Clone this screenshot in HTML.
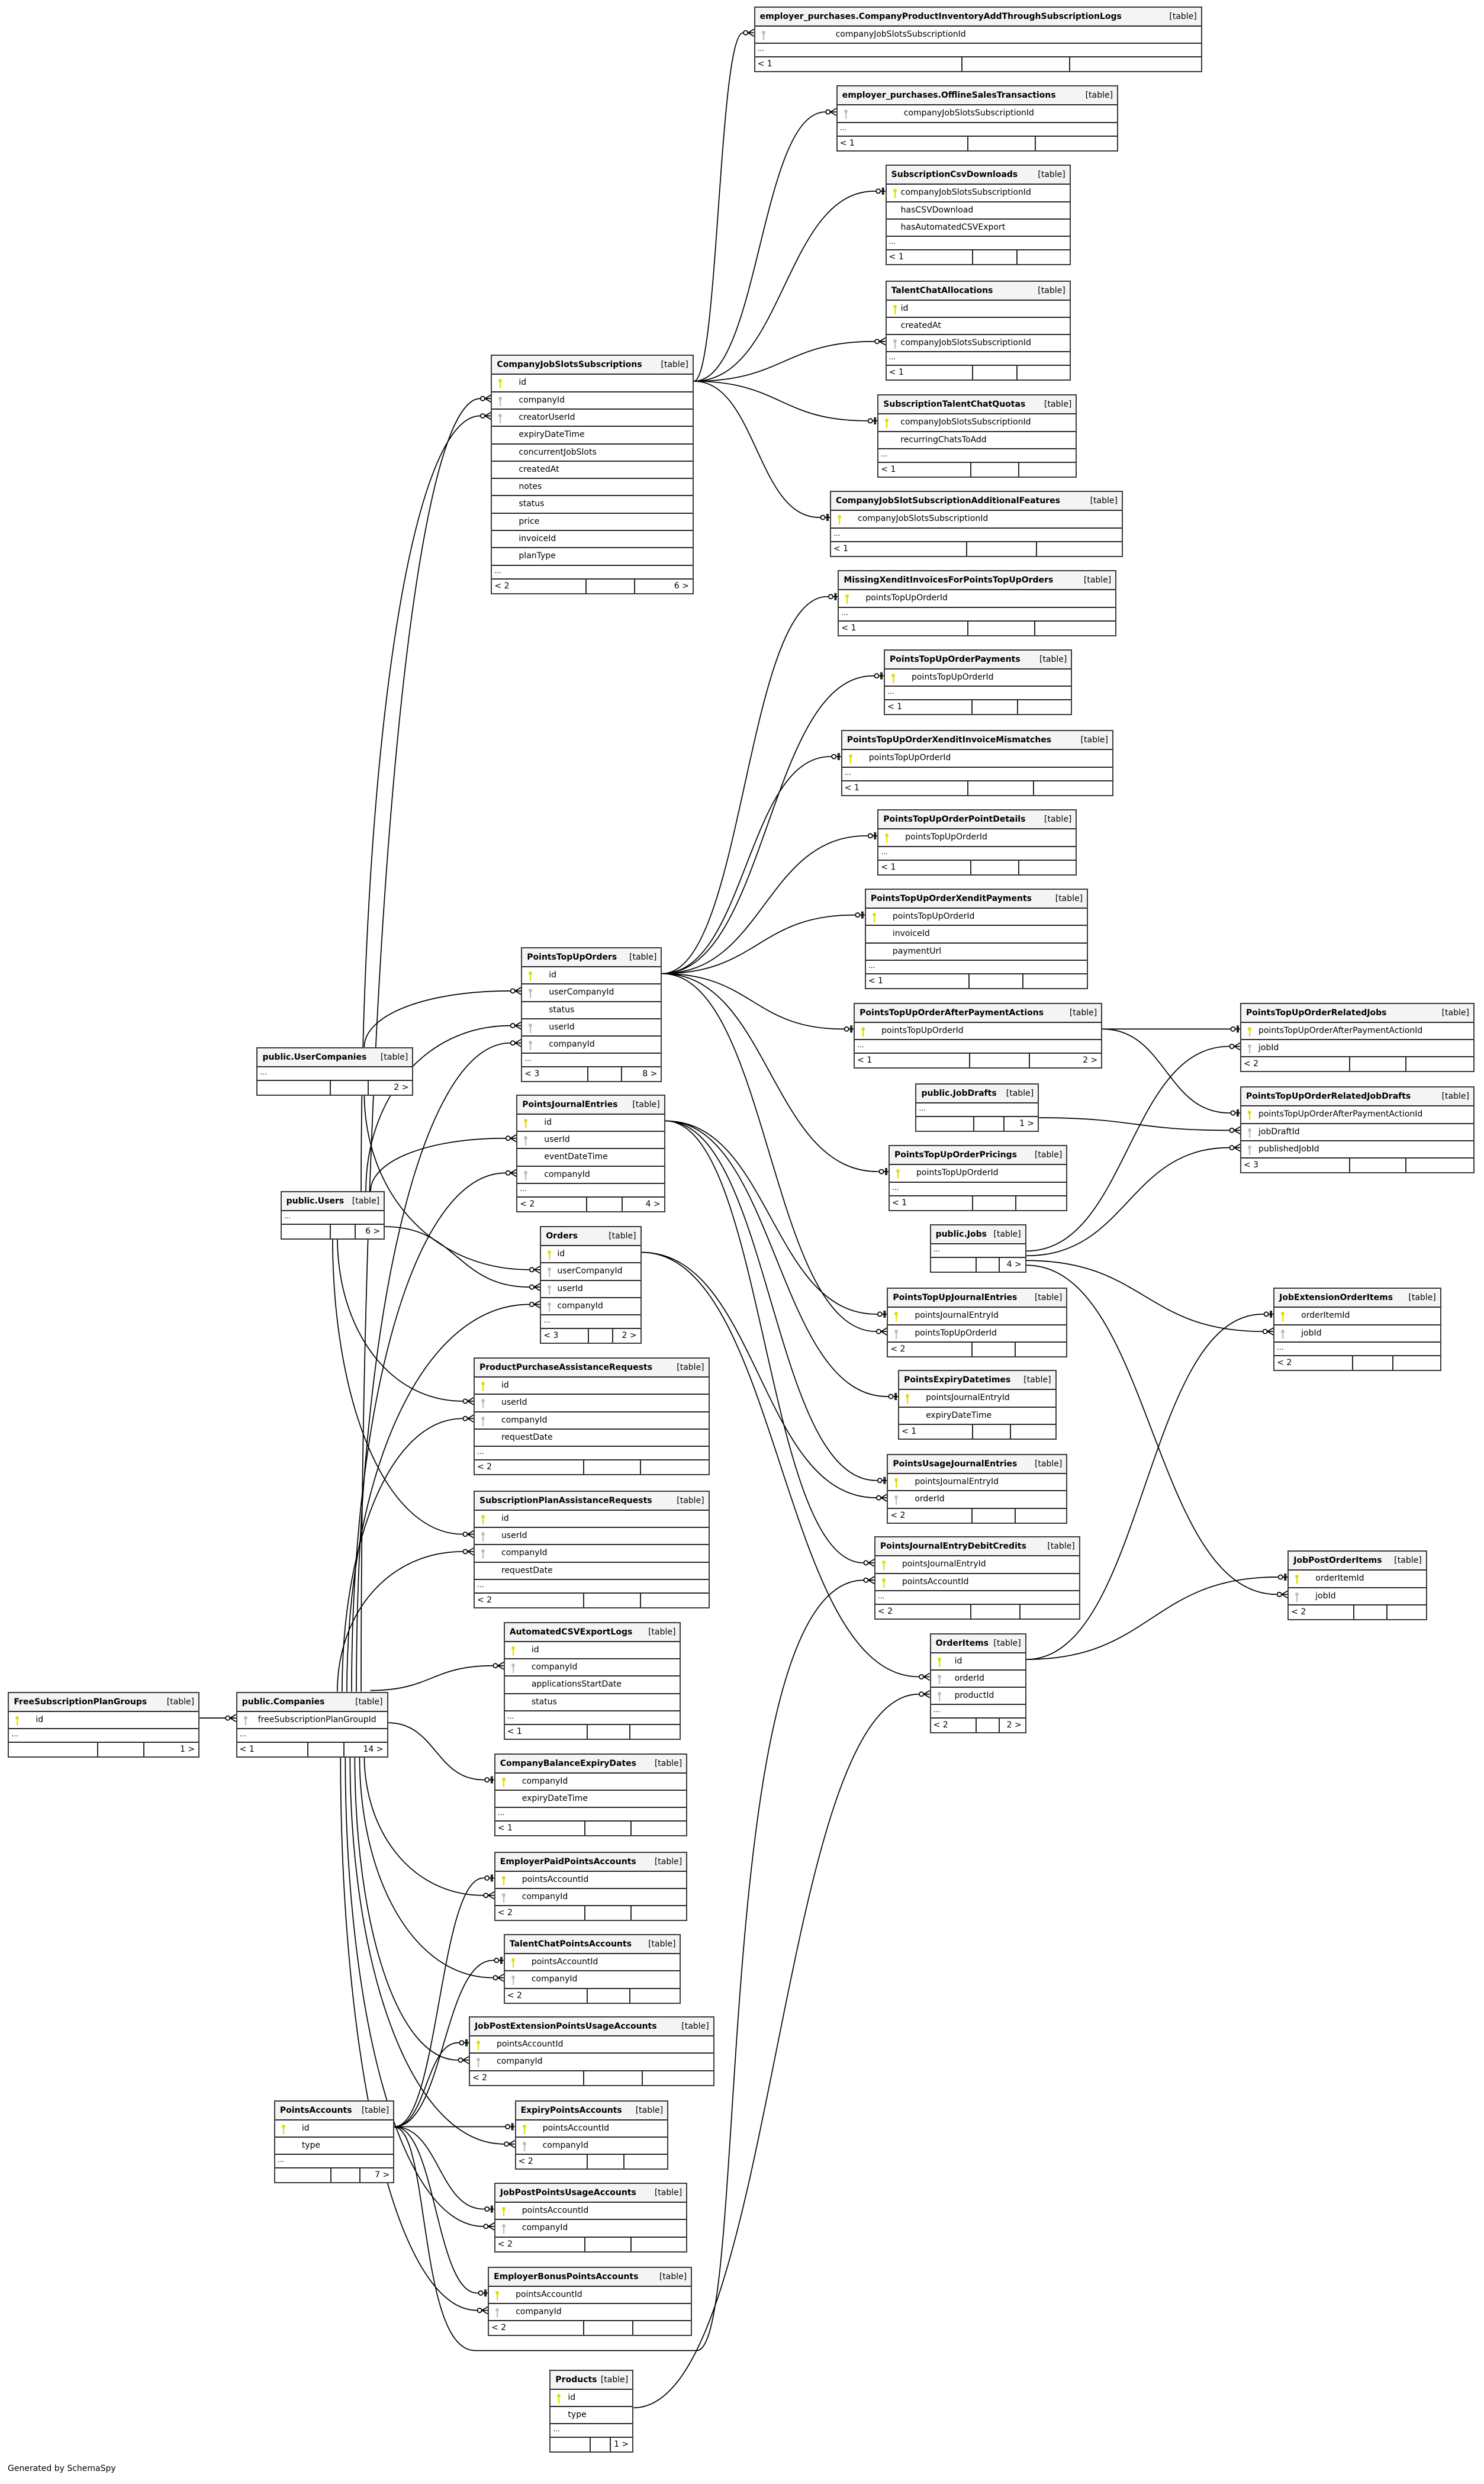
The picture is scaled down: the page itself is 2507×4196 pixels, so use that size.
<!DOCTYPE html>
<html><head><meta charset="utf-8">
<style>
html,body{margin:0;padding:0;background:#fff;}
body{width:2507px;height:4196px;position:relative;overflow:hidden;font-family:"DejaVu Sans","Liberation Sans",sans-serif;color:#000;}
.t{position:absolute;border:2px solid #3c3c3c;box-sizing:border-box;background:#fff;}
.h{height:30px;background:#f4f4f4;font-weight:bold;font-size:14px;line-height:30px;padding-left:8px;position:relative;white-space:nowrap;}
.h span{position:absolute;right:7px;top:0;font-weight:normal;font-size:14px;}
.r{height:29.3px;border-top:2px solid #2a2a2a;box-sizing:border-box;font-size:14px;line-height:27px;position:relative;white-space:nowrap;}
.d{height:23px;border-top:2px solid #2a2a2a;box-sizing:border-box;font-size:12px;line-height:16px;padding-left:4px;}
.f{height:25px;border-top:2px solid #2a2a2a;box-sizing:border-box;font-size:14px;line-height:22px;position:relative;}
.f .a{position:absolute;left:4px;top:0;}
.f .b{position:absolute;right:6px;top:0;}
.f .v{position:absolute;top:0;bottom:0;border-left:2px solid #2a2a2a;}
.k{position:absolute;top:6px;}
svg#lines{position:absolute;left:0;top:0;}
.gen{position:absolute;left:13px;top:4162px;font-size:14px;}
</style></head><body>
<svg id="lines" width="2507" height="4196"></svg>
<div id="root"></div>
<div class="gen">Generated by SchemaSpy</div>
<script>
const S=2.6756;
const T={};
function tb(id,L,Tp,R,name,rows,fl,fr,off,nd){T[id]={L:L*S,T:Tp*S,R:R*S,name,rows,fl,fr,off:off||45,nd:!!nd};}
tb(1,476,4,759,"employer_purchases.CompanyProductInventoryAddThroughSubscriptionLogs",["F:companyJobSlotsSubscriptionId"],"< 1","",136);
tb(2,528,54,706,"employer_purchases.OfflineSalesTransactions",["F:companyJobSlotsSubscriptionId"],"< 1","",112);
tb(3,559,104,676,"SubscriptionCsvDownloads",["P:companyJobSlotsSubscriptionId",":hasCSVDownload",":hasAutomatedCSVExport"],"< 1","",24);
tb(4,559,177,676,"TalentChatAllocations",["P:id",":createdAt","F:companyJobSlotsSubscriptionId"],"< 1","",24);
tb(5,554,249,680,"SubscriptionTalentChatQuotas",["P:companyJobSlotsSubscriptionId",":recurringChatsToAdd"],"< 1","",37);
tb(6,524,310,709,"CompanyJobSlotSubscriptionAdditionalFeatures",["P:companyJobSlotsSubscriptionId"],"< 1","");
tb(7,310,224,438,"CompanyJobSlotsSubscriptions",["P:id","F:companyId","F:creatorUserId",":expiryDateTime",":concurrentJobSlots",":createdAt",":notes",":status",":price",":invoiceId",":planType"],"< 2","6 >");
tb(8,529,360,705,"MissingXenditInvoicesForPointsTopUpOrders",["P:pointsTopUpOrderId"],"< 1","");
tb(9,558,410,677,"PointsTopUpOrderPayments",["P:pointsTopUpOrderId"],"< 1","");
tb(10,531,461,703,"PointsTopUpOrderXenditInvoiceMismatches",["P:pointsTopUpOrderId"],"< 1","");
tb(11,554,511,680,"PointsTopUpOrderPointDetails",["P:pointsTopUpOrderId"],"< 1","");
tb(12,546,561,687,"PointsTopUpOrderXenditPayments",["P:pointsTopUpOrderId",":invoiceId",":paymentUrl"],"< 1","");
tb(13,539,633,696,"PointsTopUpOrderAfterPaymentActions",["P:pointsTopUpOrderId"],"< 1","2 >");
tb(14,783,633,931,"PointsTopUpOrderRelatedJobs",["P:pointsTopUpOrderAfterPaymentActionId","F:jobId"],"< 2","",29,1);
tb(15,783,686,931,"PointsTopUpOrderRelatedJobDrafts",["P:pointsTopUpOrderAfterPaymentActionId","F:jobDraftId","F:publishedJobId"],"< 3","",29,1);
tb(16,578,684,656,"public.JobDrafts",[],"","1 >");
tb(17,561,723,674,"PointsTopUpOrderPricings",["P:pointsTopUpOrderId"],"< 1","");
tb(18,587,773,648,"public.Jobs",[],"","4 >");
tb(19,329,598,418,"PointsTopUpOrders",["P:id","F:userCompanyId",":status","F:userId","F:companyId"],"< 3","8 >");
tb(20,162,661,261,"public.UserCompanies",[],"","2 >");
tb(21,326,691,420,"PointsJournalEntries",["P:id","F:userId",":eventDateTime","F:companyId"],"< 2","4 >");
tb(22,177,752,243,"public.Users",[],"","6 >");
tb(23,341,774,405,"Orders",["P:id","F:userCompanyId","F:userId","F:companyId"],"< 3","2 >",27);
tb(24,560,813,674,"PointsTopUpJournalEntries",["P:pointsJournalEntryId","F:pointsTopUpOrderId"],"< 2","",45,1);
tb(25,567,865,667,"PointsExpiryDatetimes",["P:pointsJournalEntryId",":expiryDateTime"],"< 1","",45,1);
tb(26,560,918,674,"PointsUsageJournalEntries",["P:pointsJournalEntryId","F:orderId"],"< 2","",45,1);
tb(27,552,970,682,"PointsJournalEntryDebitCredits",["P:pointsJournalEntryId","P:pointsAccountId"],"< 2","");
tb(28,299,857,448,"ProductPurchaseAssistanceRequests",["P:id","F:userId","F:companyId",":requestDate"],"< 2","");
tb(29,299,941,448,"SubscriptionPlanAssistanceRequests",["P:id","F:userId","F:companyId",":requestDate"],"< 2","");
tb(30,804,813,910,"JobExtensionOrderItems",["P:orderItemId","F:jobId"],"< 2","");
tb(31,813,979,901,"JobPostOrderItems",["P:orderItemId","F:jobId"],"< 2","",45,1);
tb(32,587,1031,648,"OrderItems",["P:id","F:orderId","F:productId"],"< 2","2 >",40);
tb(33,318,1024,430,"AutomatedCSVExportLogs",["P:id","F:companyId",":applicationsStartDate",":status"],"< 1","");
tb(34,5,1068,126,"FreeSubscriptionPlanGroups",["P:id"],"","1 >");
tb(35,149,1068,245,"public.Companies",["F:freeSubscriptionPlanGroupId"],"< 1","14 >",35);
tb(36,312,1107,434,"CompanyBalanceExpiryDates",["P:companyId",":expiryDateTime"],"< 1","");
tb(37,312,1169,434,"EmployerPaidPointsAccounts",["P:pointsAccountId","F:companyId"],"< 2","",45,1);
tb(38,318,1221,430,"TalentChatPointsAccounts",["P:pointsAccountId","F:companyId"],"< 2","",45,1);
tb(39,296,1273,451,"JobPostExtensionPointsUsageAccounts",["P:pointsAccountId","F:companyId"],"< 2","",45,1);
tb(40,173,1326,249,"PointsAccounts",["P:id",":type"],"","7 >");
tb(41,325,1326,422,"ExpiryPointsAccounts",["P:pointsAccountId","F:companyId"],"< 2","",45,1);
tb(42,312,1378,434,"JobPostPointsUsageAccounts",["P:pointsAccountId","F:companyId"],"< 2","",45,1);
tb(43,308,1431,437,"EmployerBonusPointsAccounts",["P:pointsAccountId","F:companyId"],"< 2","",45,1);
tb(44,347,1496,400,"Products",["P:id",":type"],"","1 >",29);

function key(c){return '<svg class="k" width="8" height="18" style="left:10px"><circle cx="4" cy="4" r="3" fill="'+c+'"/><rect x="3" y="6" width="2.2" height="11" fill="'+c+'"/></svg>';}
let html='';
for(const id in T){const t=T[id];const w=t.R-t.L;
 let s='<div class="t" style="left:'+t.L+'px;top:'+t.T+'px;width:'+w+'px">';
 s+='<div class="h">'+t.name+'<span>[table]</span></div>';
 for(const r of t.rows){const [p,n]=r.split(':');
  s+='<div class="r">'+(p==='P'?key('#dede00'):p==='F'?key('#bdbdbd'):'')+'<span style="position:absolute;left:'+t.off+'px">'+n+'</span></div>';}
 if(!t.nd) s+='<div class="d">...</div>';
 s+='<div class="f"><span class="a">'+t.fl+'</span><span class="v" style="left:'+(w*0.46)+'px"></span><span class="v" style="left:'+(w*0.70)+'px"></span><span class="b">'+t.fr+'</span></div>';
 s+='</div>';html+=s;}
document.getElementById('root').innerHTML=html;

function ry(id,i){return T[id].T+30+29.3*i+14.6;}
let p='';
function mk(tx,ty,m){
 if(m==='c'){p+='<path d="M'+(tx-18)+','+ty+'H'+tx+'M'+(tx-10)+','+ty+'L'+tx+','+(ty-6)+'M'+(tx-10)+','+ty+'L'+tx+','+(ty+6)+'" fill="none"/>';
  p+='<circle cx="'+(tx-14)+'" cy="'+ty+'" r="3.6" fill="#fff"/>';}
 else{p+='<path d="M'+(tx-18)+','+ty+'H'+tx+'M'+(tx-5)+','+(ty-6)+'V'+(ty+6)+'M'+(tx-3)+','+(ty-6)+'V'+(ty+6)+'" fill="none"/>';
  p+='<circle cx="'+(tx-12)+'" cy="'+ty+'" r="3.6" fill="#fff"/>';}
}
function E(sx,sy,dst,row,m){const tx=T[dst].L,ty=ry(dst,row),ex=tx-18;
 const dx=Math.max(40,Math.abs(ex-sx)*0.5);
 p+='<path d="M'+sx+','+sy+'C'+(sx+dx)+','+sy+' '+(ex-dx)+','+ty+' '+ex+','+ty+'" fill="none"/>';mk(tx,ty,m);}
function V(sx,sy,dst,row,m){const tx=T[dst].L,ty=ry(dst,row),ex=tx-18;
 const k=Math.abs(sy-ty)*0.55;const dir=ty<sy?-1:1;
 p+='<path d="M'+sx+','+sy+'C'+sx+','+(sy+dir*k)+' '+(ex-Math.max(30,(ex-sx)*0.6))+','+ty+' '+ex+','+ty+'" fill="none"/>';mk(tx,ty,m);}
function pt(x,y){return [x*S,y*S];}
let s7=[T[7].R,ry(7,0)];
E(...s7,1,0,'c');E(...s7,2,0,'c');E(...s7,3,0,'b');E(...s7,4,2,'c');E(...s7,5,0,'b');E(...s7,6,0,'b');
let s19=[T[19].R,ry(19,0)];
[8,9,10,11,12,13,17].forEach(d=>E(...s19,d,0,'b'));E(...s19,24,1,'c');
let s13=[T[13].R,ry(13,0)];E(...s13,14,0,'b');E(...s13,15,0,'b');
E(T[16].R,T[16].T+58,15,1,'c');
let jy=T[18].T+45;
E(T[18].R,jy,14,1,'c');E(T[18].R,jy+8,15,2,'c');E(T[18].R,jy+16,30,1,'c');E(T[18].R,jy+24,31,1,'c');
let s21=[T[21].R,ry(21,0)];E(...s21,24,0,'b');E(...s21,25,0,'b');E(...s21,26,0,'b');E(...s21,27,0,'c');
let s23=[T[23].R,ry(23,0)];E(...s23,26,1,'c');E(...s23,32,1,'c');
let s32=[T[32].R,ry(32,0)];E(...s32,30,0,'b');E(...s32,31,0,'b');
E(T[44].R,ry(44,0)+20,32,2,'c');
let s40=[T[40].R,ry(40,0)];[37,38,39,41,42,43].forEach(d=>E(...s40,d,0,'b'));
{const tx=T[27].L,ty=ry(27,1);const a=pt(249,1343),b=pt(300,1484),c=pt(440,1484);
 p+='<path d="M'+a[0]+','+a[1]+'C'+(a[0]+60)+','+a[1]+' '+(a[0]+40)+','+b[1]+' '+b[0]+','+b[1]+'L'+c[0]+','+c[1]+'C'+(c[0]+90)+','+c[1]+' '+(c[0]+20)+','+ty+' '+(tx-18)+','+ty+'" fill="none"/>';mk(tx,ty,'c');}
E(T[34].R,ry(34,0),35,0,'c');
const cT=T[35].T,cB=T[35].T+30+29.3+48;
V(228*S,cT,7,1,'c');V(225*S,cT,19,4,'c');V(222*S,cT,21,3,'c');V(219*S,cT,23,3,'c');
V(216*S,cT,28,2,'c');V(213*S,cT,29,2,'c');
E(T[35].R-30,cT-2,33,1,'c');E(T[35].R,ry(35,0)+8,36,0,'b');
[[230,37],[227,38],[224,39],[221,41],[218,42],[215,43]].forEach(([x,d])=>V(x*S,cB,d,1,'c'));
V(230*S,T[20].T,19,1,'c');V(230*S,T[20].T+78,23,1,'c');
const uT=T[22].T,uB=T[22].T+78;
V(228*S,uT,7,2,'c');V(231*S,uT,19,3,'c');V(234*S,uT,21,1,'c');
E(T[22].R,uT+60,23,2,'c');
V(213*S,uB,28,1,'c');V(210*S,uB,29,1,'c');
document.getElementById('lines').innerHTML='<g stroke="#000" stroke-width="1.7">'+p+'</g>';
</script>
</body></html>
